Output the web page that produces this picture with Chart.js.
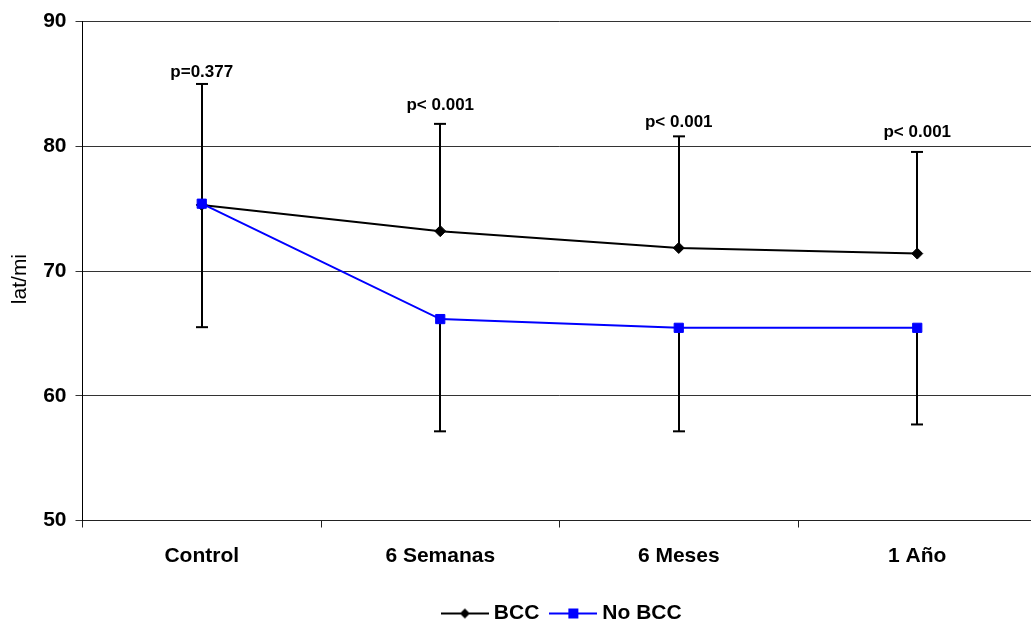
<!DOCTYPE html>
<html><head><meta charset="utf-8">
<script src="https://cdn.jsdelivr.net/npm/chart.js@4.4.1/dist/chart.umd.min.js"></script>
<style>
html,body{margin:0;padding:0;overflow:hidden;background:#fff;width:1031px;height:628px}
canvas{display:block}
</style></head>
<body><canvas id="c" width="1128" height="634"></canvas>
<script>
// ---- data ----
const categories = ['Control', '6 Semanas', '6 Meses', '1 Año'];
const bccValues = [75.3, 73.2, 71.85, 71.4];
const noBccValues = [75.4, 66.15, 65.45, 65.45];
const bccUpper = [85.0, 81.8, 80.8, 79.55];
const noBccLower = [65.5, 57.15, 57.15, 57.7];
const pLabels = ['p=0.377', 'p< 0.001', 'p< 0.001', 'p< 0.001'];
const pLabelY = [85.95, 83.3, 81.95, 81.15];
const yTickValues = [50, 60, 70, 80, 90];
const seriesNames = ['BCC', 'No BCC'];
const yAxisTitle = 'lat/mi';

const FONT = '"Liberation Sans", Arial, sans-serif';
const BLUE = '#0000ff';

function legendIcon(color, shape) {
  const c = document.createElement('canvas');
  c.width = 48; c.height = 12;
  const g = c.getContext('2d');
  g.strokeStyle = color; g.lineWidth = 2;
  g.beginPath(); g.moveTo(0, 6); g.lineTo(48, 6); g.stroke();
  g.fillStyle = color;
  if (shape === 'diamond') {
    g.beginPath(); g.moveTo(24, 1); g.lineTo(29, 6); g.lineTo(24, 11); g.lineTo(19, 6); g.closePath(); g.fill();
  } else {
    g.fillRect(19, 1, 10, 10);
  }
  return c;
}
const icons = [legendIcon('#000', 'diamond'), legendIcon(BLUE, 'square')];

const errorBars = {
  id: 'errorBars',
  beforeDatasetsDraw(chart) {
    const {ctx, scales: {x, y}} = chart;
    ctx.save();
    ctx.strokeStyle = '#000';
    ctx.lineWidth = 2;
    const draw = (vals, ends) => {
      vals.forEach((v, i) => {
        const px = Math.round(x.getPixelForValue(i));
        const y0 = y.getPixelForValue(v), y1 = y.getPixelForValue(ends[i]);
        ctx.beginPath(); ctx.moveTo(px, y0); ctx.lineTo(px, y1); ctx.stroke();
        ctx.beginPath(); ctx.moveTo(px - 6, y1); ctx.lineTo(px + 6, y1); ctx.stroke();
      });
    };
    draw(bccValues, bccUpper);
    draw(noBccValues, noBccLower);
    ctx.restore();
  },
  afterDatasetsDraw(chart) {
    const {ctx, chartArea, scales: {x, y}} = chart;
    ctx.save();
    ctx.fillStyle = '#000';
    ctx.font = 'bold 17px ' + FONT;
    ctx.textAlign = 'center';
    ctx.textBaseline = 'middle';
    pLabels.forEach((t, i) => {
      ctx.fillText(t, x.getPixelForValue(i), y.getPixelForValue(pLabelY[i]));
    });
    // y axis title
    ctx.font = '21px ' + FONT;
    ctx.translate(20, (chartArea.top + chartArea.bottom) / 2 + 8);
    ctx.rotate(-Math.PI / 2);
    ctx.fillText(yAxisTitle, 0, 0);
    ctx.restore();
  }
};

new Chart(document.getElementById('c'), {
  type: 'line',
  data: {
    labels: categories,
    datasets: [
      {
        label: seriesNames[0], data: bccValues, order: 2,
        borderColor: '#000', backgroundColor: '#000', borderWidth: 2,
        pointStyle: 'rectRot', pointRadius: 5.5, pointBorderWidth: 1,
        pointBackgroundColor: '#000', pointBorderColor: '#000', tension: 0
      },
      {
        label: seriesNames[1], data: noBccValues, order: 1,
        borderColor: BLUE, backgroundColor: BLUE, borderWidth: 2,
        pointStyle: 'rect', pointRadius: 6.5, pointBorderWidth: 1,
        pointBackgroundColor: BLUE, pointBorderColor: BLUE, tension: 0
      }
    ]
  },
  options: {
    responsive: false,
    animation: false,
    layout: { padding: { top: 19, left: 0, right: 0, bottom: 0 } },
    plugins: {
      tooltip: { enabled: false },
      legend: {
        position: 'bottom',
        labels: {
          usePointStyle: true,
          pointStyleWidth: 37,
          padding: 15.5,
          color: '#000',
          font: { family: FONT, size: 21, weight: 'bold' },
          generateLabels(chart) {
            const items = Chart.defaults.plugins.legend.labels.generateLabels(chart);
            items.sort((a, b) => a.datasetIndex - b.datasetIndex);
            items.forEach(it => { it.pointStyle = icons[it.datasetIndex]; });
            return items;
          }
        }
      }
    },
    scales: {
      x: {
        type: 'category',
        offset: true,
        grid: { display: true, drawOnChartArea: false, drawTicks: true, tickLength: 7, offset: true, color: '#222' },
        border: { color: '#222', width: 1 },
        ticks: { color: '#000', padding: 16, font: { family: FONT, size: 21, weight: 'bold' }, maxRotation: 0 },
        afterFit(s) { s.height = 67; }
      },
      y: {
        type: 'linear',
        position: 'left',
        min: 50, max: 90,
        afterBuildTicks(s) { s.ticks = yTickValues.map(v => ({ value: v })); },
        grid: { color: '#333', lineWidth: 1, tickLength: 7, drawTicks: true },
        border: { color: '#000', width: 1 },
        ticks: { color: '#000', padding: 9, font: { family: FONT, size: 21, weight: 'bold' } },
        title: { display: false },
        afterFit(s) { s.width = 82.5; }
      },
      yRight: {
        type: 'linear',
        position: 'right',
        display: true,
        grid: { display: false },
        border: { display: false },
        ticks: { display: false },
        afterFit(s) { s.width = 91.5; }
      }
    }
  },
  plugins: [errorBars]
});
</script>
</body></html>
